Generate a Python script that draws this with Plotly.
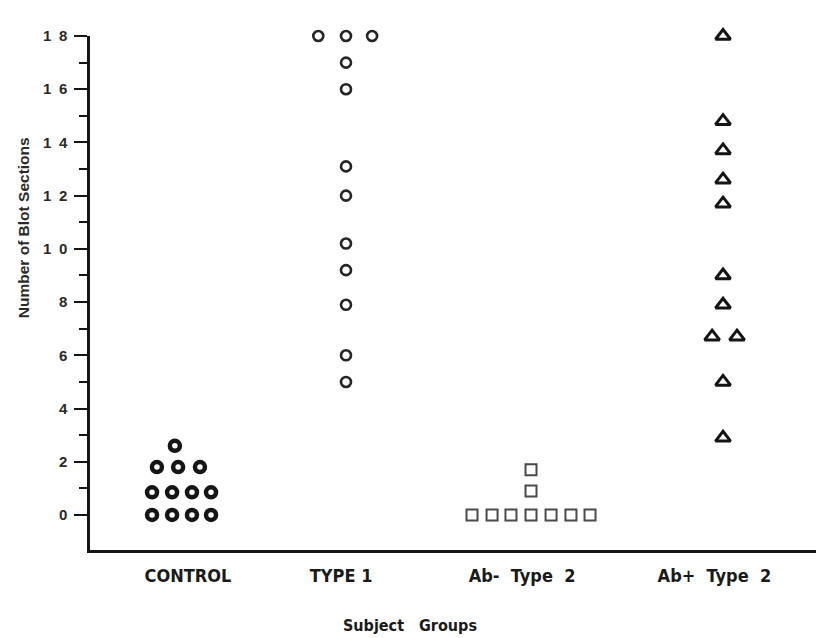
import plotly.graph_objects as go

# ---------------- data ----------------
group_labels = ["CONTROL", "TYPE\u00a01", "Ab-\u00a0 Type\u00a0 2", "Ab+\u00a0 Type\u00a0 2"]
label_pos = [1.03, 1.97, 3.08, 4.26]          # category label positions on the x scale

control_x = [0.81, 0.933, 1.055, 1.172,
             0.81, 0.933, 1.055, 1.172,
             0.84, 0.97, 1.104,
             0.95]
control_y = [0, 0, 0, 0,
             0.85, 0.85, 0.85, 0.85,
             1.8, 1.8, 1.8,
             2.6]

type1_x = [1.83, 2.0, 2.16, 2.0, 2.0, 2.0, 2.0, 2.0, 2.0, 2.0, 2.0, 2.0]
type1_y = [18, 18, 18, 17, 16, 13.1, 12, 10.2, 9.2, 7.9, 6, 5]

abneg_x = [2.773, 2.896, 3.012, 3.135, 3.258, 3.38, 3.497, 3.135, 3.135]
abneg_y = [0, 0, 0, 0, 0, 0, 0, 0.9, 1.7]

abpos_x = [4.313, 4.313, 4.313, 4.313, 4.313, 4.313, 4.313, 4.246, 4.399, 4.313, 4.313]
abpos_y = [18, 14.8, 13.7, 12.6, 11.7, 9.0, 7.9, 6.7, 6.7, 5.0, 2.9]

y_major = [0, 2, 4, 6, 8, 10, 12, 14, 16, 18]
y_major_text = ["0", "2", "4", "6", "8", "1\u20020", "1\u20022", "1\u20024", "1\u20026", "1\u20028"]
y_minor = [1, 3, 5, 7, 9, 11, 13, 15, 17]

# ---------------- figure ----------------
INK = "#151515"
fig = go.Figure()

fig.add_trace(go.Scatter(
    x=control_x, y=control_y, mode="markers", cliponaxis=False,
    marker=dict(symbol="circle-open", size=10, color=INK, line=dict(width=4.5, color=INK)),
    showlegend=False))
fig.add_trace(go.Scatter(
    x=type1_x, y=type1_y, mode="markers", cliponaxis=False,
    marker=dict(symbol="circle-open", size=10, color="#262626", line=dict(width=2.6, color="#262626")),
    showlegend=False))
fig.add_trace(go.Scatter(
    x=abneg_x, y=abneg_y, mode="markers", cliponaxis=False,
    marker=dict(symbol="square-open", size=11, color="#4a4a4a", line=dict(width=2, color="#4a4a4a")),
    showlegend=False))
fig.add_trace(go.Scatter(
    x=abpos_x, y=abpos_y, mode="markers", cliponaxis=False,
    marker=dict(symbol="triangle-up-open", size=13, color=INK, line=dict(width=3, color=INK)),
    showlegend=False))

cond = "DejaVu Sans Condensed, Liberation Sans Narrow, Liberation Sans, Arial, sans-serif"
sans = "Liberation Sans, Arial, sans-serif"

fig.update_layout(
    width=824, height=638,
    margin=dict(l=82, r=8, t=28, b=96),
    paper_bgcolor="white", plot_bgcolor="white",
    xaxis=dict(
        range=[0.4294, 0.4294 + 734 / 163],
        showgrid=False, zeroline=False,
        showline=True, linewidth=2.5, linecolor=INK,
        tickmode="array", tickvals=label_pos, ticktext=group_labels,
        ticks="", ticklabelstandoff=8,
        tickfont=dict(family=cond, size=18, color="#1a1a1a", weight="bold"),
    ),
    yaxis=dict(
        range=[-1.316, 18],
        showgrid=False, zeroline=False,
        showline=True, linewidth=2.5, linecolor=INK,
        tickmode="array", tickvals=y_major, ticktext=y_major_text,
        ticks="outside", ticklen=13, tickwidth=2, tickcolor=INK,
        ticklabelstandoff=4,
        tickfont=dict(family=sans, size=15, color="#2a2a2a", weight="bold"),
        minor=dict(tickmode="array", tickvals=y_minor, ticks="outside",
                   ticklen=8, tickwidth=2, tickcolor=INK, showgrid=False),
    ),
    annotations=[
        dict(text="Number of Blot Sections", textangle=-90,
             xref="paper", yref="paper", x=-0.0913, y=0.628,
             xanchor="center", yanchor="middle", showarrow=False,
             font=dict(family=sans, size=15.5, color="#2a2a2a", weight="bold")),
        dict(text="Subject&nbsp;&nbsp;&nbsp;Groups",
             xref="paper", yref="paper", x=0.436, y=-0.146,
             xanchor="center", yanchor="middle", showarrow=False,
             font=dict(family=cond, size=16, color="#1a1a1a", weight="bold")),
    ],
)

fig.write_html("out.html")
